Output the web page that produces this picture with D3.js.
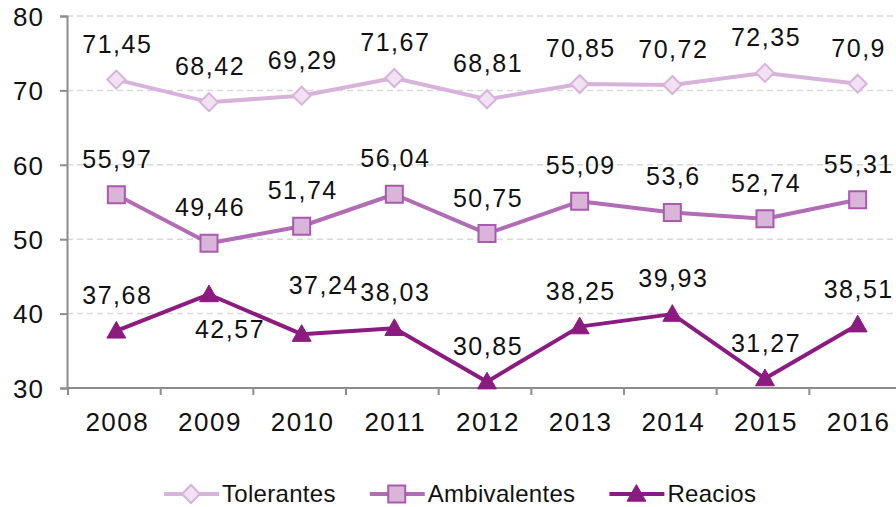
<!DOCTYPE html>
<html lang="es">

<head>
    <meta charset="UTF-8">
    <title>Tolerantes, Ambivalentes, Reacios 2008-2016</title>
    <script src="https://cdn.jsdelivr.net/npm/d3@7"></script>
    <style>
        body { margin: 0; background: #fff; }
        text { font-family: "Liberation Sans", Arial, sans-serif; fill: #111; }
    </style>
</head>

<body>
    <svg width="896" height="507" id="chart"></svg>

    <script>
        // data
        const years = ["2008", "2009", "2010", "2011", "2012", "2013", "2014", "2015", "2016"];
        const tolerantes = [71.45, 68.42, 69.29, 71.67, 68.81, 70.85, 70.72, 72.35, 70.9];
        const ambivalentes = [55.97, 49.46, 51.74, 56.04, 50.75, 55.09, 53.6, 52.74, 55.31];
        const reacios = [37.68, 42.57, 37.24, 38.03, 30.85, 38.25, 39.93, 31.27, 38.51];
        const yTicks = [30, 40, 50, 60, 70, 80];

        const series = [
            { name: "Tolerantes", values: tolerantes, line: "#d7b3db", fill: "#f1e1f3", stroke: "#d7b3db", shape: "diamond" },
            { name: "Ambivalentes", values: ambivalentes, line: "#b16cb5", fill: "#d9b5da", stroke: "#a85aad", shape: "square" },
            { name: "Reacios", values: reacios, line: "#8b1b80", fill: "#8b1b80", stroke: "#8b1b80", shape: "triangle" }
        ];

        // a couple of labels were moved by hand in the original to avoid overlaps
        const nudge = { "Reacios-1": [20, 44], "Reacios-2": [21, -40] };

        const svg = d3.select("#chart");
        const plotLeft = 67, plotBottom = 388, plotTop = 16;

        const x = d3.scaleBand().domain(years).range([70, 904]);
        const y = d3.scaleLinear().domain([30, 80]).range([plotBottom, plotTop]);
        const cx = d => x(d) + x.bandwidth() / 2;

        // gridlines
        svg.append("g")
            .selectAll("line")
            .data(yTicks.filter(t => t > 30))
            .join("line")
            .attr("x1", plotLeft).attr("x2", 896)
            .attr("y1", d => y(d)).attr("y2", d => y(d))
            .attr("stroke", "#d9d9d9")
            .attr("stroke-width", 1.5)
            .attr("stroke-dasharray", "6,4");

        // y axis
        const yAxis = svg.append("g")
            .attr("transform", `translate(${plotLeft},0)`)
            .call(d3.axisLeft(y).tickValues(yTicks).tickSize(7).tickPadding(16).tickFormat(d3.format("d")));
        yAxis.select(".domain").attr("stroke", "#8c8c8c").attr("stroke-width", 2);
        yAxis.selectAll(".tick line").attr("stroke", "#8c8c8c").attr("stroke-width", 2);
        yAxis.selectAll("text")
            .attr("font-size", 26).attr("letter-spacing", 1)
            .attr("fill", "#111").attr("font-family", null)
            .attr("dy", "0.36em");

        // x axis: labels at the centre, ticks between the years
        const xAxis = svg.append("g")
            .attr("transform", `translate(0,${plotBottom})`)
            .call(d3.axisBottom(x).tickSize(0).tickPadding(0));
        xAxis.select(".domain").remove();
        xAxis.selectAll("text")
            .attr("font-size", 26).attr("letter-spacing", 1.5)
            .attr("fill", "#111").attr("font-family", null)
            .attr("dy", 43).attr("dx", 1);
        svg.append("line")
            .attr("x1", plotLeft).attr("x2", 896)
            .attr("y1", plotBottom).attr("y2", plotBottom)
            .attr("stroke", "#8c8c8c").attr("stroke-width", 2);
        svg.append("g")
            .selectAll("line")
            .data(years.map(d => x(d)))
            .join("line")
            .attr("x1", d => d - 2).attr("x2", d => d - 2)
            .attr("y1", plotBottom).attr("y2", plotBottom + 7)
            .attr("stroke", "#8c8c8c").attr("stroke-width", 2);

        function markerPath(shape, s) {
            if (shape === "diamond") return `M0,${-s}L${s},0L0,${s}L${-s},0Z`;
            if (shape === "square") return `M${-s},${-s}H${s}V${s}H${-s}Z`;
            return `M0,${-s * 1.05}L${s * 1.05},${s * 0.8}L${-s * 1.05},${s * 0.8}Z`;
        }
        const markerSize = { diamond: 9, square: 8.5, triangle: 9 };

        const line = d3.line()
            .x((d, i) => cx(years[i]))
            .y(d => y(d));

        series.forEach(s => {
            const g = svg.append("g");
            g.append("path")
                .attr("d", line(s.values))
                .attr("fill", "none")
                .attr("stroke", s.line)
                .attr("stroke-width", 4)
                .attr("stroke-linejoin", "round");
            g.selectAll("path.mk")
                .data(s.values)
                .join("path")
                .attr("class", "mk")
                .attr("transform", (d, i) => `translate(${cx(years[i])},${y(d)})`)
                .attr("d", markerPath(s.shape, markerSize[s.shape]))
                .attr("fill", s.fill)
                .attr("stroke", s.stroke)
                .attr("stroke-width", s.shape === "triangle" ? 1 : 2);
            g.selectAll("text")
                .data(s.values)
                .join("text")
                .attr("x", (d, i) => cx(years[i]) + 1 + (nudge[s.name + "-" + i] || [0, 0])[0])
                .attr("y", (d, i) => y(d) + (nudge[s.name + "-" + i] || [0, -27])[1])
                .attr("text-anchor", "middle")
                .attr("font-size", 25)
                .attr("letter-spacing", 1.5)
                .text(d => String(d).replace(".", ","));
        });

        // legend
        const legend = svg.append("g").attr("transform", "translate(164,494)");
        let lx = 0;
        series.forEach(s => {
            const item = legend.append("g").attr("transform", `translate(${lx},0)`);
            item.append("line")
                .attr("x1", 0).attr("x2", 55)
                .attr("stroke", s.line).attr("stroke-width", 4);
            item.append("path")
                .attr("transform", "translate(27,0)")
                .attr("d", markerPath(s.shape, markerSize[s.shape]))
                .attr("fill", s.fill)
                .attr("stroke", s.stroke)
                .attr("stroke-width", s.shape === "triangle" ? 1 : 2);
            const t = item.append("text")
                .attr("x", 58).attr("y", 8)
                .attr("font-size", 24)
                .attr("letter-spacing", 0.3)
                .text(s.name);
            lx += 58 + t.node().getComputedTextLength() + 34;
        });
    </script>
</body>

</html>
